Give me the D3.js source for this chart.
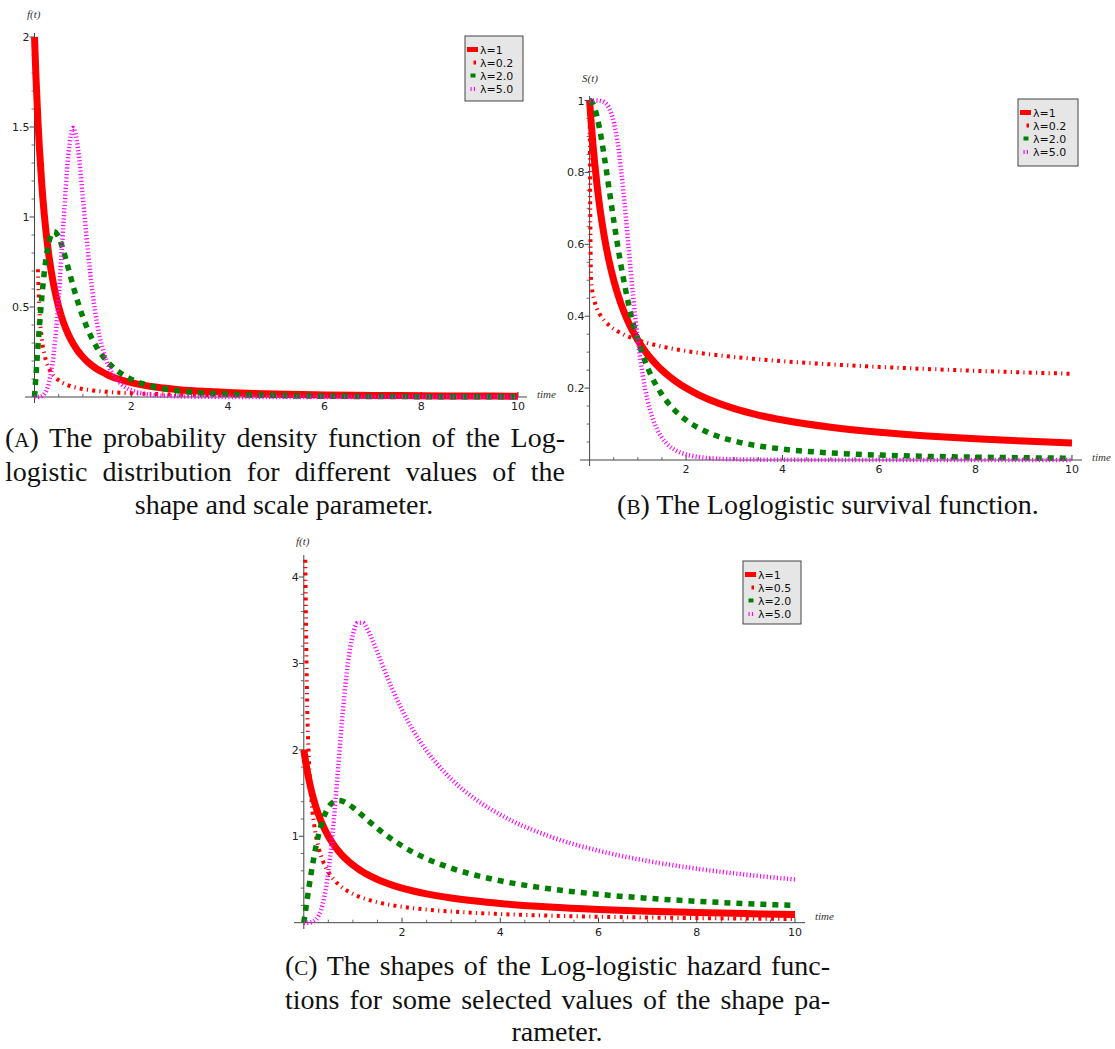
<!DOCTYPE html>
<html><head><meta charset="utf-8">
<script src="https://cdn.jsdelivr.net/npm/d3@7"></script>
<style>body{margin:0;background:#fff}svg{display:block}
.cap{font-family:"Liberation Serif","Times New Roman",Times,serif;}
</style>
</head><body>
<svg id="chart" width="1115" height="1049"></svg>
<script>
// ---------- data ----------
const time = [0, 0.03, 0.07, 0.1, 0.15, 0.2, 0.25, 0.3, 0.4, 0.5, 0.6, 0.7, 0.8, 0.9, 1.0, 1.1, 1.2, 1.3, 1.4, 1.5, 1.6, 1.8, 2.0, 2.25, 2.5, 3, 3.5, 4, 5, 6, 7, 8, 9, 10];

// (A) probability density
const pdfLambda1  = [2, 1.780, 1.539, 1.389, 1.183, 1.020, 0.889, 0.781, 0.617, 0.5, 0.413, 0.347, 0.296, 0.255, 0.222, 0.195, 0.173, 0.154, 0.139, 0.125, 0.113, 0.0945, 0.08, 0.0661, 0.0556, 0.0408, 0.0313, 0.0247, 0.0165, 0.0118, 0.0089, 0.0069, 0.0055, 0.0045];
const pdfLambda02 = [null, null, 0.710, 0.493, 0.325, 0.242, 0.192, 0.158, 0.117, 0.0927, 0.0765, 0.0649, 0.0564, 0.0497, 0.0444, 0.0401, 0.0366, 0.0336, 0.0310, 0.0288, 0.0269, 0.0237, 0.0211, 0.0186, 0.0166, 0.0136, 0.0115, 0.0100, 0.0078, 0.0064, 0.0054, 0.0047, 0.0041, 0.0037];
const pdfLambda2  = [0, 0.1196, 0.2746, 0.3845, 0.5494, 0.6859, 0.7901, 0.8618, 0.9183, 0.8889, 0.8112, 0.7142, 0.6156, 0.5245, 0.4444, 0.3762, 0.3188, 0.2711, 0.2314, 0.1983, 0.1709, 0.1287, 0.0988, 0.0727, 0.0549, 0.0332, 0.0215, 0.0147, 0.0077, 0.0045, 0.0029, 0.0019, 0.0014, 0.0010];
const pdfLambda5  = [0, 0, 0.0002, 0.001, 0.0051, 0.016, 0.039, 0.080, 0.246, 0.554, 0.971, 1.345, 1.495, 1.379, 1.111, 0.822, 0.581, 0.402, 0.278, 0.193, 0.136, 0.070, 0.038, 0.019, 0.010, 0.0034, 0.0014, 0.0006, 0.0002, 0.0001, 0, 0, 0, 0];

// (B) survival
const survLambda1  = [1, 0.9434, 0.8772, 0.8333, 0.7692, 0.7143, 0.6667, 0.625, 0.5556, 0.5, 0.4545, 0.4167, 0.3846, 0.3571, 0.3333, 0.3125, 0.2941, 0.2778, 0.2632, 0.25, 0.2381, 0.2174, 0.2, 0.1818, 0.1667, 0.1429, 0.125, 0.1111, 0.0909, 0.0769, 0.0667, 0.0588, 0.0526, 0.0476];
const survLambda02 = [1, 0.502, 0.4598, 0.4421, 0.4222, 0.4082, 0.3975, 0.3888, 0.3752, 0.3648, 0.3564, 0.3494, 0.3433, 0.3380, 0.3333, 0.3291, 0.3253, 0.3218, 0.3186, 0.3156, 0.3128, 0.3077, 0.3033, 0.2983, 0.2939, 0.2864, 0.2802, 0.2748, 0.2660, 0.2589, 0.2531, 0.2481, 0.2437, 0.2398];
const survLambda2  = [1, 0.9982, 0.9903, 0.9804, 0.9569, 0.9259, 0.8889, 0.8475, 0.7576, 0.6667, 0.5814, 0.5051, 0.4386, 0.3817, 0.3333, 0.2924, 0.2577, 0.2283, 0.2033, 0.1818, 0.1634, 0.1337, 0.1111, 0.0899, 0.0741, 0.0526, 0.0392, 0.0303, 0.0196, 0.0137, 0.0101, 0.0078, 0.0061, 0.0050];
const survLambda5  = [1, 1, 1, 1, 0.9998, 0.9994, 0.998, 0.9952, 0.9799, 0.9412, 0.8654, 0.7484, 0.6041, 0.4585, 0.3333, 0.2369, 0.1673, 0.1187, 0.0851, 0.0618, 0.0455, 0.0258, 0.0154, 0.0086, 0.0051, 0.0021, 0.0010, 0.0005, 0.0002, 0.0001, 0, 0, 0, 0];

// (C) hazard
const hazLambda1  = [2, 1.8868, 1.7544, 1.6667, 1.5385, 1.4286, 1.3333, 1.25, 1.1111, 1, 0.9091, 0.8333, 0.7692, 0.7143, 0.6667, 0.625, 0.5882, 0.5556, 0.5263, 0.5, 0.4762, 0.4348, 0.4, 0.3636, 0.3333, 0.2857, 0.25, 0.2222, 0.1818, 0.1538, 0.1333, 0.1176, 0.1053, 0.0952];
const hazLambda05 = [null, 4.2, 2.4716, 1.9373, 1.4550, 1.1803, 1.0, 0.8713, 0.6980, 0.5858, 0.5064, 0.4471, 0.4009, 0.3638, 0.3333, 0.3078, 0.2861, 0.2674, 0.2511, 0.2367, 0.2240, 0.2024, 0.1847, 0.1667, 0.1520, 0.1293, 0.1127, 0.1, 0.0817, 0.0692, 0.0601, 0.0531, 0.0476, 0.0432];
const hazLambda2  = [0, 0.1198, 0.2773, 0.3922, 0.5742, 0.7407, 0.8889, 1.0169, 1.2121, 1.3333, 1.3953, 1.4141, 1.4035, 1.3740, 1.3333, 1.2865, 1.2371, 1.1872, 1.1382, 1.0909, 1.0458, 0.9626, 0.8889, 0.8090, 0.7407, 0.6316, 0.5490, 0.4848, 0.3922, 0.3288, 0.2828, 0.2481, 0.2209, 0.1990];
const hazLambda5  = [0, 0, 0.0002, 0.001, 0.0051, 0.016, 0.039, 0.0806, 0.2509, 0.5882, 1.1216, 1.7970, 2.4744, 3.0083, 3.3333, 3.4686, 3.4695, 3.3897, 3.2676, 3.1274, 2.9828, 2.7062, 2.4615, 2.2031, 1.9898, 1.6632, 1.4272, 1.2494, 0.9998, 0.8333, 0.7143, 0.6250, 0.5556, 0.5];

const legendLabelsAB = ["λ=1", "λ=0.2", "λ=2.0", "λ=5.0"];
const legendLabelsC  = ["λ=1", "λ=0.5", "λ=2.0", "λ=5.0"];
const xTickValues = [2, 4, 6, 8, 10];
const yTicksA = [0.5, 1, 1.5, 2];
const yTicksB = [0.2, 0.4, 0.6, 0.8, 1];
const yTicksC = [1, 2, 3, 4];

const captionA = ["The probability density function of the Log-", "logistic distribution for different values of the", "shape and scale parameter."];
const captionB = ["The Loglogistic survival function."];
const captionC = ["The shapes of the Log-logistic hazard func-", "tions for some selected values of the shape pa-", "rameter."];

// ---------- styles ----------
const seriesStyles = [
  {color: "#ff0000", width: 7,   dash: null},
  {color: "#ff0000", width: 4,   dash: "3,4.2,1.2,4.2"},
  {color: "#008000", width: 5.5, dash: "6,6"},
  {color: "#ff00ff", width: 4.5, dash: "1.1,2.3"}
];
const legendHandles = [[2, 13], [8.5, 11], [5.5, 10.5], [5.5, 10.5]];

const svg = d3.select("#chart");

function drawPanel(cfg) {
  const g = svg.append("g");
  const x = d3.scaleLinear().domain([0, 10]).range(cfg.xRange);
  const y = d3.scaleLinear().domain(cfg.yDomain).range(cfg.yRange);
  const axisColor = "#444";

  g.append("line").attr("x1", cfg.xAxisExtent[0]).attr("x2", cfg.xAxisExtent[1])
    .attr("y1", y(0)).attr("y2", y(0)).attr("stroke", axisColor).attr("stroke-width", 1);
  g.append("line").attr("x1", x(0)).attr("x2", x(0))
    .attr("y1", cfg.yAxisExtent[0]).attr("y2", cfg.yAxisExtent[1]).attr("stroke", axisColor).attr("stroke-width", 1);

  const xMinor = d3.range(0.5, 10.01, 0.5).filter(v => !xTickValues.includes(v));
  g.selectAll(null).data(xMinor).join("line")
    .attr("x1", d => x(d)).attr("x2", d => x(d))
    .attr("y1", y(0)).attr("y2", y(0) - 3).attr("stroke", axisColor).attr("stroke-width", 0.8);
  g.selectAll(null).data(xTickValues).join("line")
    .attr("x1", d => x(d)).attr("x2", d => x(d))
    .attr("y1", y(0)).attr("y2", y(0) - 5).attr("stroke", axisColor).attr("stroke-width", 1);
  g.selectAll(null).data(xTickValues).join("text")
    .attr("x", d => x(d)).attr("y", y(0) + 13)
    .attr("text-anchor", "middle").attr("font-family", "DejaVu Sans, sans-serif")
    .attr("font-size", 11).attr("fill", "#222").text(d => d);

  const yMax = cfg.yDomain[1];
  const yMinor = d3.range(cfg.yMinorStep, yMax + 1e-9, cfg.yMinorStep)
    .filter(v => !cfg.yTicks.some(t => Math.abs(t - v) < 1e-6));
  g.selectAll(null).data(yMinor).join("line")
    .attr("x1", x(0)).attr("x2", x(0) - 3)
    .attr("y1", d => y(d)).attr("y2", d => y(d)).attr("stroke", axisColor).attr("stroke-width", 0.8);
  g.selectAll(null).data(cfg.yTicks).join("line")
    .attr("x1", x(0)).attr("x2", x(0) - 5)
    .attr("y1", d => y(d)).attr("y2", d => y(d)).attr("stroke", axisColor).attr("stroke-width", 1);
  g.selectAll(null).data(cfg.yTicks).join("text")
    .attr("x", x(0) - 5).attr("y", d => y(d) + 4)
    .attr("text-anchor", "end").attr("font-family", "DejaVu Sans, sans-serif")
    .attr("font-size", 11).attr("fill", "#222").text(d => String(d));

  g.append("text").attr("x", cfg.yLabelPos[0]).attr("y", cfg.yLabelPos[1])
    .attr("class", "cap").attr("font-style", "italic")
    .attr("font-size", 11).attr("fill", "#333").text(cfg.yLabel);
  g.append("text").attr("x", cfg.xLabelPos[0]).attr("y", cfg.xLabelPos[1])
    .attr("class", "cap").attr("font-style", "italic")
    .attr("font-size", 11).attr("fill", "#333").text("time");

  const line = d3.line()
    .defined(d => d[1] !== null)
    .x(d => x(d[0])).y(d => y(d[1]))
    .curve(d3.curveMonotoneX);
  cfg.series.forEach((vals, i) => {
    const st = seriesStyles[i];
    const pts = time.map((t, k) => [t, vals[k]]);
    g.append("path").attr("d", line(pts))
      .attr("fill", "none").attr("stroke", st.color)
      .attr("stroke-width", st.width)
      .attr("stroke-dasharray", st.dash)
      .attr("stroke-linejoin", "round");
  });

  const [lx, ly, lw, lh] = cfg.legendBox;
  const lg = g.append("g");
  lg.append("rect").attr("x", lx).attr("y", ly).attr("width", lw).attr("height", lh)
    .attr("fill", "#e6e6e6").attr("stroke", "#444").attr("stroke-width", 1);
  const rowOffsets = [13.5, 26.5, 39.5, 53];
  cfg.legendLabels.forEach((lab, i) => {
    const st = seriesStyles[i];
    const ry = ly + rowOffsets[i];
    lg.append("line").attr("x1", lx + legendHandles[i][0]).attr("x2", lx + legendHandles[i][1])
      .attr("y1", ry).attr("y2", ry).attr("stroke", st.color)
      .attr("stroke-width", i === 0 ? 5 : 4)
      .attr("stroke-dasharray", i === 3 ? st.dash : null);
    lg.append("text").attr("x", lx + 15).attr("y", ry + 4)
      .attr("font-family", "DejaVu Sans, sans-serif").attr("font-size", 11)
      .attr("fill", "#111").text(lab);
  });
}

drawPanel({
  xRange: [34.5, 518], yDomain: [0, 2], yRange: [397, 37],
  xAxisExtent: [25, 527], yAxisExtent: [403, 33],
  yTicks: yTicksA, yMinorStep: 0.1,
  yLabel: "f(t)", yLabelPos: [27, 18], xLabelPos: [537, 398],
  series: [pdfLambda1, pdfLambda02, pdfLambda2, pdfLambda5],
  legendLabels: legendLabelsAB, legendBox: [465, 36, 58, 65]
});
drawPanel({
  xRange: [589.6, 1072], yDomain: [0, 1], yRange: [460, 100.5],
  xAxisExtent: [580, 1082], yAxisExtent: [466, 96],
  yTicks: yTicksB, yMinorStep: 0.05,
  yLabel: "S(t)", yLabelPos: [582, 82], xLabelPos: [1092, 461],
  series: [survLambda1, survLambda02, survLambda2, survLambda5],
  legendLabels: legendLabelsAB, legendBox: [1018, 99, 60, 67]
});
drawPanel({
  xRange: [303.8, 795], yDomain: [0, 4], yRange: [922.7, 577],
  xAxisExtent: [294, 805], yAxisExtent: [929, 555],
  yTicks: yTicksC, yMinorStep: 0.2,
  yLabel: "f(t)", yLabelPos: [296, 545], xLabelPos: [815, 920],
  series: [hazLambda1, hazLambda05, hazLambda2, hazLambda5],
  legendLabels: legendLabelsC, legendBox: [743, 561, 58, 63]
});

// ---------- captions (justified by word spacing) ----------
function caption(label, lines, layout) {
  lines.forEach((txt, i) => {
    const L = layout[i];
    const t = svg.append("text")
      .attr("class", "cap")
      .attr("y", L.y)
      .attr("font-size", 28).attr("fill", "#111");
    if (i === 0) {
      t.append("tspan").text("(");
      t.append("tspan").attr("font-size", 21).text(label);
      t.append("tspan").text(") " + txt);
    } else {
      t.text(txt);
    }
    const full = (i === 0 ? "(" + label + ") " : "") + txt;
    const natural = t.node().getComputedTextLength();
    if (L.justify) {
      const spaces = (full.match(/ /g) || []).length;
      t.attr("x", L.x).attr("word-spacing", (L.w - natural) / spaces);
    } else {
      t.attr("x", L.x).attr("text-anchor", "middle");
    }
  });
}
caption("A", captionA, [
  {x: 5, y: 447, w: 560, justify: true},
  {x: 5, y: 481, w: 560, justify: true},
  {x: 284, y: 514}
]);
caption("B", captionB, [
  {x: 828, y: 514}
]);
caption("C", captionC, [
  {x: 285, y: 975, w: 545, justify: true},
  {x: 285, y: 1009, w: 545, justify: true},
  {x: 557, y: 1041}
]);
</script>
</body></html>
